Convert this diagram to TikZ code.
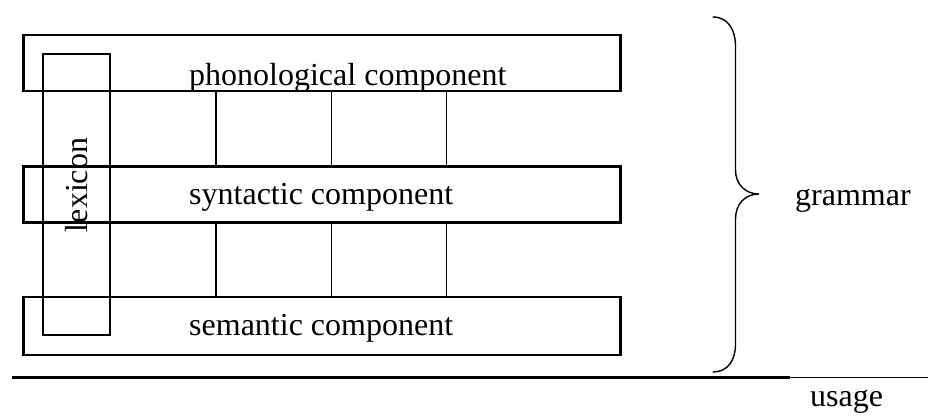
\documentclass[tikz,border=0pt]{standalone}
\usepackage{fontspec}
\setmainfont{Liberation Serif}
\begin{document}
\begin{tikzpicture}[x=1pt,y=-1pt,
  compbox/.style={draw, line width=2.2pt, minimum width=597pt, inner sep=0pt},
  lexbox/.style={draw, line width=2pt, minimum width=67pt, minimum height=281pt, inner sep=0pt},
  label/.style={font=\fontsize{32}{38}\selectfont, inner sep=0pt},
  link/.style={line width=1.6pt},
  brace/.style={line width=1.4pt, line cap=round}]
\useasboundingbox (0,0) rectangle (928,416);
% component boxes
\node[compbox, minimum height=56pt] (phon) at (322,63) {};
\node[compbox, minimum height=56pt] (syn) at (322,194.5) {};
\node[compbox, minimum height=57.5pt] (sem) at (322,326) {};
% lexicon box
\node[lexbox] (lex) at (76.5,194.5) {};
% texts
\node[label, anchor=base west] (phont) at (189,85) {phonological component};
\node[label, anchor=base west] (synt) at (189,204) {syntactic component};
\node[label, anchor=base west] (semt) at (189,335) {semantic component};
\node[label, rotate=90, anchor=base] (lext) at (87,185) {lexicon};
% links
\foreach \x in {216,331.5,446.5} {
  \draw[link] (\x,0 |- phon.south) -- (\x,0 |- syn.north);
  \draw[link] (\x,0 |- syn.south) -- (\x,0 |- sem.north);
}
% brace
\coordinate (btop) at (713,17);
\coordinate (btip) at (759,194);
\coordinate (bbot) at (713,372);
\draw[brace] (btop) .. controls (728,17) and (735.5,30) .. (735.5,46)
  -- (735.5,170) .. controls (735.5,184) and (745,194) .. (btip)
  .. controls (745,194) and (735.5,204) .. (735.5,219)
  -- (735.5,344) .. controls (735.5,360) and (728,372) .. (bbot);
\node[label, anchor=base west] (gram) at (795,205) {grammar};
% usage line
\coordinate (ul) at (12,377.5);
\coordinate (um) at (790,377.5);
\coordinate (ur) at (928,377.5);
\draw[line width=2.4pt] (ul) -- (um);
\draw[line width=1.3pt] (um) -- (ur);
\node[label, anchor=base west] (usage) at (810,406) {usage};
\end{tikzpicture}
\end{document}
